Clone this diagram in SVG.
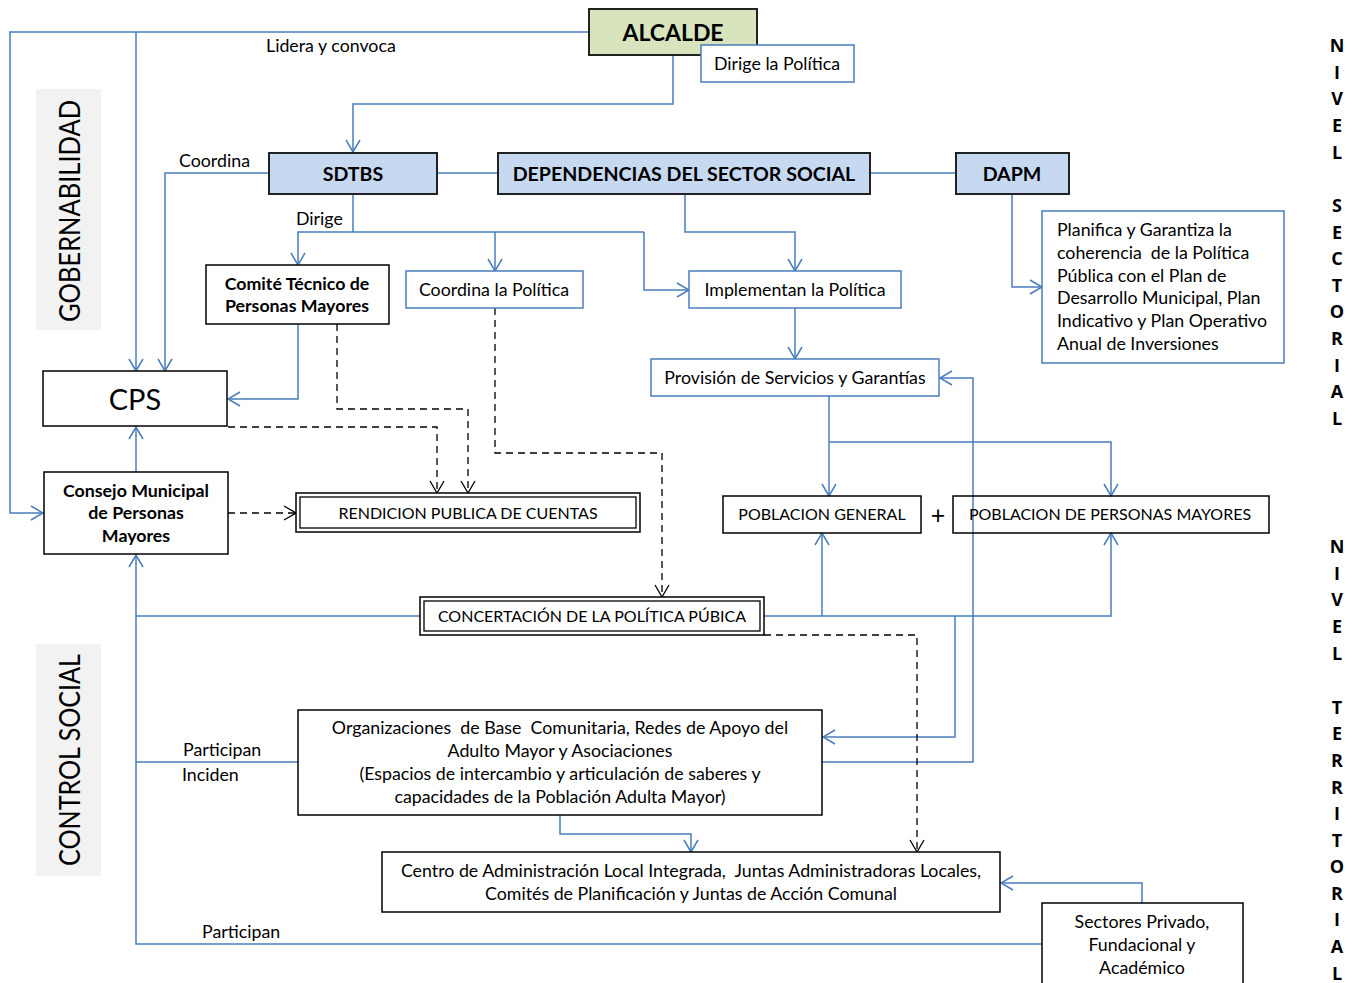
<svg xmlns="http://www.w3.org/2000/svg" width="1360" height="983" viewBox="0 0 1360 983">
<style>
text{font-family:Lato,"Open Sans","Liberation Sans",sans-serif;fill:#000;white-space:pre}
.t{font-size:17.8px}
.u{font-size:16px}
.c{text-anchor:middle}
.b{font-weight:bold}
.h{font-size:19.6px;font-weight:bold;text-anchor:middle}
.bx{fill:#fff;stroke:#000;stroke-width:1.5}
.bl{fill:#fff;stroke:#4a7ebb;stroke-width:1.5}
.hd{fill:#c6d9f1;stroke:#222;stroke-width:2}
.ln{fill:none;stroke:#4a7ebb;stroke-width:1.5}
.ar{marker-end:url(#a)}
.ds{fill:none;stroke:#000;stroke-width:1.3;stroke-dasharray:7,5;marker-end:url(#d)}
.vl{font-size:18px;font-weight:bold;text-anchor:middle;font-family:"Open Sans",sans-serif}
.lab{fill:#f2f2f2}
</style>
<defs>
<marker id="a" viewBox="0 0 14 16" refX="13" refY="8" markerWidth="14" markerHeight="16" orient="auto" markerUnits="userSpaceOnUse"><path d="M1,1 L13,8 L1,15" fill="none" stroke="#4a7ebb" stroke-width="1.5"/></marker>
<marker id="d" viewBox="0 0 14 16" refX="13" refY="8" markerWidth="14" markerHeight="16" orient="auto" markerUnits="userSpaceOnUse"><path d="M1,1 L13,8 L1,15" fill="none" stroke="#000" stroke-width="1.3"/></marker>
</defs>
<rect width="1360" height="983" fill="#fff"/>

<g id="labels-left">
<rect class="lab" x="36" y="89" width="65" height="241"/>
<text x="80" y="211" transform="rotate(-90 80 211)" text-anchor="middle" font-size="28" textLength="222" lengthAdjust="spacingAndGlyphs">GOBERNABILIDAD</text>
<rect class="lab" x="36" y="644" width="65" height="232"/>
<text x="80" y="760" transform="rotate(-90 80 760)" text-anchor="middle" font-size="28" textLength="212" lengthAdjust="spacingAndGlyphs">CONTROL SOCIAL</text>
</g>

<g id="connectors">
<polyline class="ln ar" points="589,32 10,32 10,513 43,513"/>
<polyline class="ln ar" points="136,32 136,371"/>
<polyline class="ln ar" points="673,55 673,104 353,104 353,152"/>
<line class="ln" x1="437" y1="173" x2="498" y2="173"/>
<line class="ln" x1="870" y1="173" x2="956" y2="173"/>
<polyline class="ln ar" points="269,173 165,173 165,371"/>
<polyline class="ln" points="353,194 353,232"/>
<polyline class="ln ar" points="644,232 298,232 298,265"/>
<polyline class="ln ar" points="495,232 495,271"/>
<polyline class="ln ar" points="644,232 644,290 689,290"/>
<polyline class="ln ar" points="685,194 685,232 795,232 795,271"/>
<polyline class="ln ar" points="795,308 795,359"/>
<polyline class="ln ar" points="1012,194 1012,287 1042,287"/>
<polyline class="ln ar" points="298,324 298,399 228,399"/>
<polyline class="ln ar" points="136,472 136,427"/>
<polyline class="ln ar" points="829,396 829,496"/>
<polyline class="ln ar" points="829,442 1111,442 1111,496"/>
<polyline class="ln ar" points="764,616 1111,616 1111,533"/>
<polyline class="ln ar" points="822,616 822,533"/>
<polyline class="ln ar" points="955,616 955,737 823,737"/>
<polyline class="ln ar" points="822,762 973,762 973,378 940,378"/>
<polyline class="ln ar" points="1042,944 136,944 136,555"/>
<line class="ln" x1="136" y1="616" x2="420" y2="616"/>
<line class="ln" x1="136" y1="762" x2="298" y2="762"/>
<polyline class="ln ar" points="560,815 560,834 691,834 691,852"/>
<polyline class="ln ar" points="1142,903 1142,883 1001,883"/>
<polyline class="ds" points="337,324 337,409 468,409 468,493"/>
<polyline class="ds" points="228,427 437,427 437,493"/>
<polyline class="ds" points="228,513 296,513"/>
<polyline class="ds" points="495,308 495,453 662,453 662,597"/>
<polyline class="ds" points="764,635 917,635 917,852"/>
</g>

<g id="alcalde">
<rect x="589" y="9" width="168" height="46" fill="#d7e4bd" stroke="#222" stroke-width="2"/>
<text x="673" y="41" class="h" style="font-size:23px">ALCALDE</text>
</g>
<g id="dirige-politica">
<rect class="bl" x="701" y="45" width="153" height="37"/>
<text x="777" y="70" class="t c">Dirige la Política</text>
</g>
<g id="sdtbs">
<rect class="hd" x="269" y="153" width="168" height="41"/>
<text x="353" y="181" class="h">SDTBS</text>
</g>
<g id="dependencias">
<rect class="hd" x="498" y="153" width="372" height="41"/>
<text x="684" y="181" class="h">DEPENDENCIAS DEL SECTOR SOCIAL</text>
</g>
<g id="dapm">
<rect class="hd" x="956" y="153" width="113" height="41"/>
<text x="1012" y="181" class="h">DAPM</text>
</g>
<g id="comite">
<rect class="bx" x="206" y="265" width="183" height="59"/>
<text x="297" y="290" class="t c b">Comité Técnico de</text>
<text x="297" y="312" class="t c b">Personas Mayores</text>
</g>
<g id="coordina-politica">
<rect class="bl" x="406" y="271" width="177" height="37"/>
<text x="494" y="296" class="t c">Coordina la Política</text>
</g>
<g id="implementan">
<rect class="bl" x="689" y="271" width="212" height="37"/>
<text x="795" y="296" class="t c">Implementan la Política</text>
</g>
<g id="planifica">
<rect class="bl" x="1042" y="211" width="242" height="152"/>
<text x="1057" y="236" class="t">Planifica y Garantiza la</text>
<text x="1057" y="259" class="t">coherencia  de la Política</text>
<text x="1057" y="282" class="t">Pública con el Plan de</text>
<text x="1057" y="304" class="t">Desarrollo Municipal, Plan</text>
<text x="1057" y="327" class="t">Indicativo y Plan Operativo</text>
<text x="1057" y="350" class="t">Anual de Inversiones</text>
</g>
<g id="provision">
<rect class="bl" x="651" y="359" width="288" height="37"/>
<text x="795" y="384" class="t c">Provisión de Servicios y Garantías</text>
</g>
<g id="cps">
<rect class="bx" x="43" y="371" width="184" height="55"/>
<text x="135" y="410" font-size="29" text-anchor="middle">CPS</text>
</g>
<g id="consejo">
<rect class="bx" x="44" y="472" width="184" height="82"/>
<text x="136" y="497" class="t c b">Consejo Municipal</text>
<text x="136" y="519" class="t c b">de Personas</text>
<text x="136" y="542" class="t c b">Mayores</text>
</g>
<g id="rendicion">
<rect class="bx" x="296" y="493" width="344" height="39"/>
<rect x="300" y="497" width="336" height="31" fill="none" stroke="#000" stroke-width="1.3"/>
<text x="468" y="519" class="u c">RENDICION PUBLICA DE CUENTAS</text>
</g>
<g id="poblacion-general">
<rect class="bx" x="723" y="496" width="198" height="37"/>
<text x="822" y="520" class="u c">POBLACION GENERAL</text>
</g>
<g id="plus"><text x="938" y="524" font-size="25" text-anchor="middle">+</text></g>
<g id="poblacion-mayores">
<rect x="953" y="496" width="316" height="37" fill="none" stroke="#000" stroke-width="1.5"/>
<text x="1110" y="520" class="u c">POBLACION DE PERSONAS MAYORES</text>
</g>
<g id="concertacion">
<rect class="bx" x="420" y="597" width="344" height="38"/>
<rect x="424" y="601" width="336" height="30" fill="none" stroke="#000" stroke-width="1.3"/>
<text x="592" y="622" class="u c">CONCERTACIÓN DE LA POLÍTICA PÚBICA</text>
</g>
<g id="organizaciones">
<rect class="bx" x="298" y="710" width="524" height="105"/>
<text x="560" y="734" class="t c">Organizaciones  de Base  Comunitaria, Redes de Apoyo del</text>
<text x="560" y="757" class="t c">Adulto Mayor y Asociaciones</text>
<text x="560" y="780" class="t c">(Espacios de intercambio y articulación de saberes y</text>
<text x="560" y="803" class="t c">capacidades de la Población Adulta Mayor)</text>
</g>
<g id="centro">
<rect class="bx" x="382" y="852" width="618" height="60"/>
<text x="691" y="877" class="t c">Centro de Administración Local Integrada,  Juntas Administradoras Locales,</text>
<text x="691" y="900" class="t c">Comités de Planificación y Juntas de Acción Comunal</text>
</g>
<g id="sectores">
<rect class="bx" x="1042" y="903" width="201" height="90"/>
<text x="1142" y="928" class="t c">Sectores Privado,</text>
<text x="1142" y="951" class="t c">Fundacional y</text>
<text x="1142" y="974" class="t c">Académico</text>
</g>

<g id="edge-labels">
<text x="266" y="52" class="t">Lidera y convoca</text>
<text x="179" y="167" class="t">Coordina</text>
<text x="296" y="225" class="t">Dirige</text>
<text x="183" y="756" class="t">Participan</text>
<text x="182" y="781" class="t">Inciden</text>
<text x="202" y="938" class="t">Participan</text>
</g>

<g id="nivel-sectorial">
<text class="vl" x="1337" y="52">N</text>
<text class="vl" x="1337" y="79">I</text>
<text class="vl" x="1337" y="105">V</text>
<text class="vl" x="1337" y="132">E</text>
<text class="vl" x="1337" y="159">L</text>
<text class="vl" x="1337" y="212">S</text>
<text class="vl" x="1337" y="239">E</text>
<text class="vl" x="1337" y="265">C</text>
<text class="vl" x="1337" y="292">T</text>
<text class="vl" x="1337" y="318">O</text>
<text class="vl" x="1337" y="345">R</text>
<text class="vl" x="1337" y="372">I</text>
<text class="vl" x="1337" y="398">A</text>
<text class="vl" x="1337" y="425">L</text>
</g>
<g id="nivel-territorial">
<text class="vl" x="1337" y="553">N</text>
<text class="vl" x="1337" y="580">I</text>
<text class="vl" x="1337" y="606">V</text>
<text class="vl" x="1337" y="633">E</text>
<text class="vl" x="1337" y="660">L</text>
<text class="vl" x="1337" y="714">T</text>
<text class="vl" x="1337" y="740">E</text>
<text class="vl" x="1337" y="767">R</text>
<text class="vl" x="1337" y="794">R</text>
<text class="vl" x="1337" y="820">I</text>
<text class="vl" x="1337" y="847">T</text>
<text class="vl" x="1337" y="873">O</text>
<text class="vl" x="1337" y="900">R</text>
<text class="vl" x="1337" y="926">I</text>
<text class="vl" x="1337" y="953">A</text>
<text class="vl" x="1337" y="980">L</text>
</g>
</svg>
